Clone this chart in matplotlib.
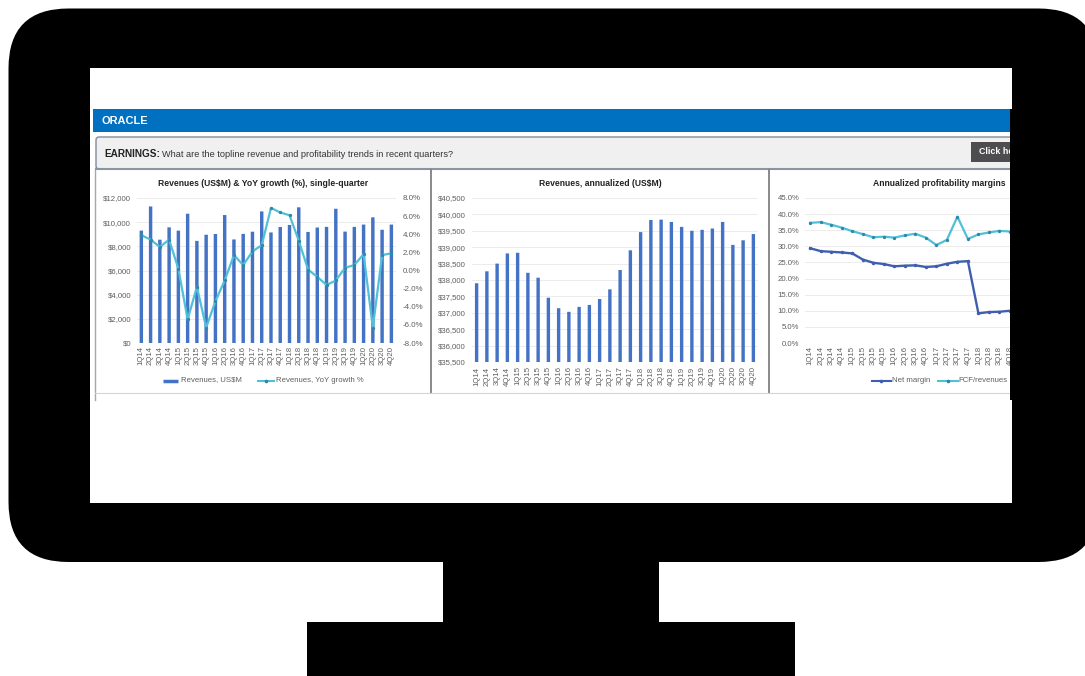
import matplotlib
matplotlib.use("Agg")
import matplotlib.pyplot as plt
from matplotlib.patches import FancyBboxPatch, Rectangle
from matplotlib.ticker import FuncFormatter
import numpy as np

W, H = 1085, 676
plt.rcParams['font.family'] = ['Liberation Sans', 'DejaVu Sans']

quarters = ["1Q14","2Q14","3Q14","4Q14","1Q15","2Q15","3Q15","4Q15","1Q16","2Q16","3Q16","4Q16","1Q17","2Q17",
            "3Q17","4Q17","1Q18","2Q18","3Q18","4Q18","1Q19","2Q19","3Q19","4Q19","1Q20","2Q20","3Q20","4Q20"]
revenue = [9300,11300,8550,9570,9300,10700,8450,8960,9020,10590,8570,9030,9210,10890,
           9150,9600,9770,11230,9190,9560,9610,11110,9220,9610,9800,10400,9370,9800]
yoy_growth = [3.9,3.4,2.6,3.4,0.2,-5.4,-1.8,-6.3,-3.4,-1.1,1.7,0.6,2.1,2.8,
              6.9,6.4,6.1,3.3,0.1,-0.7,-1.6,-1.1,0.3,0.6,1.8,-6.3,1.7,1.9]
annualized = [37900,38265,38500,38810,38830,38220,38070,37460,37140,37030,37180,37240,37420,37715,
              38305,38905,39460,39830,39840,39770,39620,39500,39530,39570,39770,39070,39210,39400]
# the last panel runs off the screen, only these quarters can be seen
net_margin = [29.4,28.5,28.3,28.1,27.8,25.9,24.9,24.5,23.8,24.0,24.1,23.6,23.8,24.6,25.2,25.4,9.2,9.6,9.7,10.0]
fcf_margin = [37.3,37.5,36.7,35.8,34.7,33.8,32.8,33.0,32.7,33.4,33.9,32.7,30.4,32.0,39.2,32.3,33.7,34.3,34.8,34.6]

BLUE = "#4472C4"
CYAN = "#4FC0D8"
NAVY = "#3F5FAE"
DOT = "#2d8aa5"
GREY = "#5f5f5f"

fig = plt.figure(figsize=(W/100, H/100), dpi=100, facecolor="white")

# full figure axes in pixels, y going down
bg = fig.add_axes([0, 0, 1, 1], zorder=0)
bg.set_xlim(0, W)
bg.set_ylim(H, 0)
bg.axis("off")
bg.add_patch(FancyBboxPatch((8.5, 8.5), 1090, 553.5, boxstyle="round,pad=0,rounding_size=60", fc="black", ec="none"))
bg.add_patch(Rectangle((443, 560), 216, 64, fc="black", ec="none"))
bg.add_patch(Rectangle((307, 622), 488, 54, fc="black", ec="none"))
bg.add_patch(Rectangle((90, 68), 922, 435, fc="white", ec="none"))
bg.add_patch(Rectangle((93, 109), 919, 23, fc="#0070C0", ec="none"))
bg.text(101, 120.7, "ORACLE", color="white", fontsize=7.9, fontweight="bold", va="center")
bg.add_patch(FancyBboxPatch((96, 137), 930, 32, boxstyle="round,pad=0,rounding_size=3", fc="#F0F0F0", ec="#7f8b9c", lw=1))
bg.plot([96, 1012], [169, 169], color="#8a94a3", lw=1.5)
bg.text(104, 154.3, "EARNINGS:", color="#222222", fontsize=7.2, fontweight="bold", va="center")
bg.text(161.5, 154.3, "What are the topline revenue and profitability trends in recent quarters?", color="#333333", fontsize=6.55, va="center")
bg.add_patch(Rectangle((971, 142), 41, 20, fc="#4d4d4f", ec="none"))
bg.text(979, 151.5, "Click here", color="white", fontsize=6.4, fontweight="bold", va="center")
# panel borders
bg.plot([95, 95], [170, 400], color="#a8a8a8", lw=1)
for x in [431, 769]:
    bg.plot([x, x], [170, 393], color="#808080", lw=1.3)
bg.plot([95, 1012], [393, 393], color="#d5d5d5", lw=0.8)


def make_axes(left, right, top, bottom):
    ax = fig.add_axes([left/W, 1-bottom/H, (right-left)/W, (bottom-top)/H], zorder=2)
    ax.patch.set_alpha(0)
    for s in ax.spines.values():
        s.set_visible(False)
    ax.grid(axis="y", color="#ececec", lw=0.7)
    ax.set_axisbelow(True)
    ax.tick_params(axis="both", length=0, labelsize=5.6, labelcolor=GREY, pad=4)
    return ax


def quarter_ticks(ax, labels, pad=2):
    ax.set_xticks(range(len(labels)))
    ax.set_xticklabels(labels, rotation=90, fontsize=5.6)
    ax.tick_params(axis="x", pad=pad)


# left panel
ax1 = make_axes(136.7, 396, 198, 343)
ax1.bar(range(28), revenue, width=0.37, color=BLUE, snap=False)
ax1.set_xlim(-0.5, 27.5)
ax1.set_ylim(0, 12000)
ax1.set_yticks(range(0, 12001, 2000))
ax1.yaxis.set_major_formatter(FuncFormatter(lambda v, p: "${:,.0f}".format(v)))
quarter_ticks(ax1, quarters)
ax1b = ax1.twinx()
ax1b.patch.set_alpha(0)
for s in ax1b.spines.values():
    s.set_visible(False)
ax1b.plot(range(28), yoy_growth, color=CYAN, lw=1.6, marker="o", ms=1.4, mfc=DOT, mec=DOT)
ax1b.set_ylim(-8, 8)
ax1b.set_yticks(range(-8, 9, 2))
ax1b.yaxis.set_major_formatter(FuncFormatter(lambda v, p: "{:.1f}%".format(v)))
ax1b.tick_params(axis="y", length=0, labelsize=5.7, labelcolor=GREY, pad=5)

# middle panel
ax2 = make_axes(471.5, 758.5, 198, 362)
ax2.bar(range(28), annualized, width=0.33, color=BLUE, snap=False)
ax2.set_xlim(-0.5, 27.5)
ax2.set_ylim(35500, 40500)
ax2.set_yticks(range(35500, 40501, 500))
ax2.yaxis.set_major_formatter(FuncFormatter(lambda v, p: "${:,.0f}".format(v)))
quarter_ticks(ax2, quarters, pad=3.2)

# right panel
ax3 = make_axes(805, 1011, 198, 343)
ax3.plot(range(20), net_margin, color=NAVY, lw=1.7, marker="o", ms=1.5)
ax3.plot(range(20), fcf_margin, color=CYAN, lw=1.6, marker="o", ms=1.4, mfc=DOT, mec=DOT)
ax3.set_xlim(-0.5, 19.1)
ax3.set_ylim(0, 45)
ax3.set_yticks(range(0, 46, 5))
ax3.yaxis.set_major_formatter(FuncFormatter(lambda v, p: "{:.1f}%".format(v)))
quarter_ticks(ax3, quarters[:20])

# titles and legends sit in pixel coordinates over the panels
top = fig.add_axes([0, 0, 1, 1], zorder=5)
top.set_xlim(0, W)
top.set_ylim(H, 0)
top.axis("off")
top.text(263, 183, "Revenues (US$M) & YoY growth (%), single-quarter", ha="center", va="center", fontsize=6.2, fontweight="bold", color="#222222")
top.text(600, 183, "Revenues, annualized (US$M)", ha="center", va="center", fontsize=6.2, fontweight="bold", color="#222222")
top.text(873, 183, "Annualized profitability margins", va="center", fontsize=6.2, fontweight="bold", color="#222222")

top.plot([163, 178], [380.5, 380.5], color=BLUE, lw=2.5, solid_capstyle="butt")
top.text(181, 380, "Revenues, US$M", va="center", fontsize=5.6, color=GREY)
top.plot([258, 274], [380.5, 380.5], color=CYAN, lw=1.5)
top.plot([266], [380.5], marker="o", ms=1.6, color=DOT)
top.text(276, 380, "Revenues, YoY growth %", va="center", fontsize=5.6, color=GREY)
top.plot([872, 891], [380.5, 380.5], color=NAVY, lw=1.5)
top.plot([881], [380.5], marker="o", ms=1.6, color=NAVY)
top.text(892, 380, "Net margin", va="center", fontsize=5.6, color=GREY)
top.plot([938, 958], [380.5, 380.5], color=CYAN, lw=1.5)
top.plot([948], [380.5], marker="o", ms=1.6, color=DOT)
top.text(958.5, 380, "FCF/revenues", va="center", fontsize=5.6, color=GREY)

# right side of the monitor covers what runs off the screen
top.add_patch(Rectangle((1012, 68), 80, 435, fc="black", ec="none", zorder=20))
top.add_patch(Rectangle((1010, 109), 3, 291, fc="black", ec="none", zorder=20))

fig.savefig("out.png", dpi=100)
